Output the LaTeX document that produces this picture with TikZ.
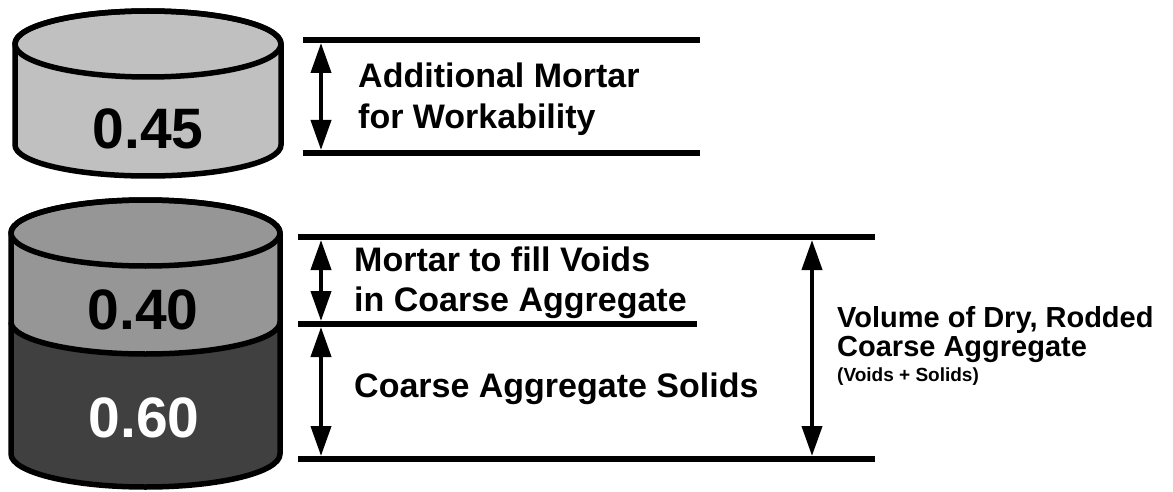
\documentclass[tikz,border=0pt]{standalone}
\usepackage{fontspec}
\setmainfont{Liberation Sans}
\usetikzlibrary{arrows.meta}
\definecolor{lightcyl}{HTML}{C0C0C0}
\definecolor{midcyl}{HTML}{969696}
\definecolor{darkcyl}{HTML}{404040}
\begin{document}
\begin{tikzpicture}[x=1pt,y=-1pt,
  outline/.style={line width=5.5pt,draw=black,line join=round},
  rule/.style={line width=5.5pt},
  dimarrow/.style={line width=4pt,{Triangle[width=20pt,length=30pt]}-{Triangle[width=20pt,length=30pt]}},
  lbl/.style={anchor=base west,inner sep=0pt,font=\bfseries\fontsize{34}{40}\selectfont},
  sidelbl/.style={anchor=base west,inner sep=0pt,font=\bfseries\fontsize{29}{34}\selectfont},
  smalllbl/.style={anchor=base west,inner sep=0pt,font=\bfseries\fontsize{19}{22}\selectfont},
  numlbl/.style={anchor=base,inner sep=0pt,font=\bfseries\fontsize{57}{60}\selectfont}]
\useasboundingbox (0,0) rectangle (1173,492);
\fill[white] (0,0) rectangle (1173,492);

% ---- top cylinder (0.45) ----
\filldraw[outline,fill=lightcyl] (15,44) -- (15,145)
  arc[start angle=180,end angle=0,x radius=133,y radius=31] -- (281,44)
  arc[start angle=0,end angle=-180,x radius=133,y radius=33] -- cycle;
\draw[outline] (148,44) ellipse [x radius=133,y radius=33];
\node[numlbl] (n045) at (148,149) {0.45};

% ---- lower cylinder (0.40 / 0.60) ----
\fill[darkcyl] (11,233) -- (11,454)
  arc[start angle=180,end angle=0,x radius=134.5,y radius=33] -- (280,233)
  arc[start angle=0,end angle=-180,x radius=134.5,y radius=33] -- cycle;
\fill[midcyl] (11,233) -- (11,322)
  arc[start angle=180,end angle=0,x radius=134.5,y radius=32] -- (280,233)
  arc[start angle=0,end angle=-180,x radius=134.5,y radius=33] -- cycle;
\draw[outline] (11,322) arc[start angle=180,end angle=0,x radius=134.5,y radius=32];
\draw[outline] (11,233) -- (11,454)
  arc[start angle=180,end angle=0,x radius=134.5,y radius=33] -- (280,233)
  arc[start angle=0,end angle=-180,x radius=134.5,y radius=33] -- cycle;
\draw[outline] (145.5,233) ellipse [x radius=134.5,y radius=33];
\node[numlbl] (n040) at (143,329) {0.40};
\node[numlbl,text=white] (n060) at (144,437) {0.60};

% ---- top dimension group ----
\coordinate (r1a) at (303,40);  \coordinate (r1b) at (700,40);
\coordinate (r2a) at (303,153); \coordinate (r2b) at (700,153);
\draw[rule] (r1a) -- (r1b);
\draw[rule] (r2a) -- (r2b);
\coordinate (a1t) at (321,43); \coordinate (a1b) at (321,150);
\draw[dimarrow] (a1t) -- (a1b);
\node[lbl] (add1) at (358,88) {Additional Mortar};
\node[lbl] (add2) at (358,129) {for Workability};

% ---- lower dimension group ----
\coordinate (r3a) at (298,237); \coordinate (r3b) at (875,237);
\coordinate (r4a) at (298,324); \coordinate (r4b) at (697,324);
\coordinate (r5a) at (298,459); \coordinate (r5b) at (875,459);
\draw[rule] (r3a) -- (r3b);
\draw[rule] (r4a) -- (r4b);
\draw[rule] (r5a) -- (r5b);
\coordinate (a2t) at (321,240); \coordinate (a2b) at (321,321);
\coordinate (a3t) at (321,327); \coordinate (a3b) at (321,456);
\coordinate (a4t) at (812,240); \coordinate (a4b) at (812,456);
\draw[dimarrow] (a2t) -- (a2b);
\draw[dimarrow] (a3t) -- (a3b);
\draw[dimarrow] (a4t) -- (a4b);
\node[lbl] (mv1) at (354,271) {Mortar to fill Voids};
\node[lbl] (mv2) at (354,311) {in Coarse Aggregate};
\node[lbl] (cas) at (354,397) {Coarse Aggregate Solids};
\node[sidelbl] (vol1) at (837,327) {Volume of Dry, Rodded};
\node[sidelbl] (vol2) at (837,356) {Coarse Aggregate};
\node[smalllbl] (vol3) at (837,381) {(Voids + Solids)};
\end{tikzpicture}
\end{document}
